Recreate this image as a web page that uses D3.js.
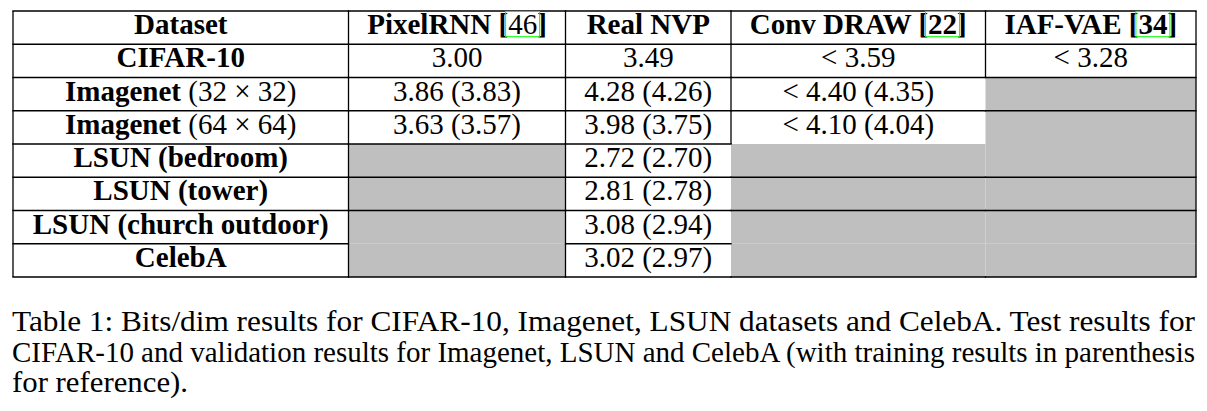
<!DOCTYPE html>
<html>
<head>
<meta charset="utf-8">
<script src="https://cdn.jsdelivr.net/npm/d3@7"></script>
<style>
  html, body { margin: 0; padding: 0; background: #fff; }
  svg { display: block; font-family: "Liberation Serif", "Times New Roman", serif; }
</style>
</head>
<body>
<svg id="chart" width="1207" height="411"></svg>
<script>
// table content
const headerLabel = 'Dataset';
const models = ['PixelRNN', 'Real NVP', 'Conv DRAW', 'IAF-VAE'];
const cites = ['46', null, '22', '34'];
const citeBold = [false, false, true, true];
const datasetNames = ['CIFAR-10', 'Imagenet', 'Imagenet', 'LSUN (bedroom)', 'LSUN (tower)', 'LSUN (church outdoor)', 'CelebA'];
const datasetSizes = [null, '32', '64', null, null, null, null];

// test (or validation) bits/dim and training bits/dim, null = no result
const pixelRnnTest  = [3.00, 3.86, 3.63, null, null, null, null];
const pixelRnnTrain = [null, 3.83, 3.57, null, null, null, null];
const realNvpTest   = [3.49, 4.28, 3.98, 2.72, 2.81, 3.08, 3.02];
const realNvpTrain  = [null, 4.26, 3.75, 2.70, 2.78, 2.94, 2.97];
const convDrawTest  = [3.59, 4.40, 4.10, null, null, null, null];
const convDrawTrain = [null, 4.35, 4.04, null, null, null, null];
const iafVaeTest    = [3.28, null, null, null, null, null, null];
const iafVaeTrain   = [null, null, null, null, null, null, null];
const upperBound = [false, false, true, true];   // values shown as "< x"

const captionLines = [
  'Table 1: Bits/dim results for CIFAR-10, Imagenet, LSUN datasets and CelebA. Test results for',
  'CIFAR-10 and validation results for Imagenet, LSUN and CelebA (with training results in parenthesis',
  'for reference).'
];

// layout
const colEdges = [13, 348.5, 565.5, 731, 985.5, 1196];
const fontSize = 29;
const grey = '#bfbfbf';
// rules that the shaded cells paint over: top edge of [row, col]
const hiddenTop = [[3, 3], [3, 4], [6, 1], [6, 3], [6, 4]];

const testCols = [pixelRnnTest, realNvpTest, convDrawTest, iafVaeTest];
const trainCols = [pixelRnnTrain, realNvpTrain, convDrawTrain, iafVaeTrain];
const fmt = d3.format('.2f');

const svg = d3.select('#chart');
svg.append('rect').attr('width', 1207).attr('height', 411).attr('fill', '#fff');

const y = d3.scaleBand()
    .domain(d3.range(datasetNames.length + 1))
    .range([11, 277]);

const x = d3.scaleOrdinal()
    .domain(d3.range(colEdges.length - 1))
    .range(colEdges.slice(0, -1));
const colW = c => colEdges[c + 1] - colEdges[c];
const colMid = c => x(c) + colW(c) / 2;
const baseline = r => y(r) + 23;

// cells as a flat list
const cells = [];
datasetNames.forEach((name, i) => {
    models.forEach((m, j) => {
        cells.push({ row: i + 1, col: j + 1, test: testCols[j][i], train: trainCols[j][i], bound: upperBound[j] });
    });
});

// shaded (empty) cells
svg.append('g').selectAll('rect')
    .data(cells.filter(d => d.test == null))
    .join('rect')
        .attr('x', d => x(d.col))
        .attr('y', d => y(d.row))
        .attr('width', d => colW(d.col))
        .attr('height', y.bandwidth())
        .attr('fill', grey);

// rules
const isGrey = (r, c) => c > 0 && r > 0 && testCols[c - 1][r - 1] == null;
const hidden = (r, c) => hiddenTop.some(h => h[0] === r - 1 && h[1] === c);
const hSegs = [];
for (let r = 0; r <= datasetNames.length + 1; r++) {
    for (let c = 0; c < models.length + 1; c++) {
        if (r > 0 && r <= datasetNames.length && hidden(r, c)) continue;
        const yy = r <= datasetNames.length ? y(r) : y(r - 1) + y.bandwidth();
        hSegs.push({ x1: x(c), x2: x(c) + colW(c), y: yy });
    }
}
const vSegs = [];
for (let r = 0; r <= datasetNames.length; r++) {
    for (let c = 0; c <= models.length + 1; c++) {
        if (c >= 3 && c <= models.length && isGrey(r, c)) continue;
        const xx = c <= models.length ? x(c) : colEdges[c];
        vSegs.push({ x: xx, y1: y(r), y2: y(r) + y.bandwidth() });
    }
}
const rules = svg.append('g').attr('stroke', '#000').attr('stroke-width', 1.3);
rules.selectAll('.h').data(hSegs).join('line').attr('class', 'h')
    .attr('x1', d => d.x1 - 0.65).attr('x2', d => d.x2 + 0.65)
    .attr('y1', d => d.y).attr('y2', d => d.y);
rules.selectAll('.v').data(vSegs).join('line').attr('class', 'v')
    .attr('x1', d => d.x).attr('x2', d => d.x)
    .attr('y1', d => d.y1).attr('y2', d => d.y2);

const txt = svg.append('g').attr('font-size', fontSize).attr('fill', '#000').attr('text-anchor', 'middle');

// header
txt.append('text').attr('x', colMid(0)).attr('y', baseline(0))
    .attr('font-weight', 'bold').text(headerLabel);

models.forEach((m, j) => {
    const t = txt.append('text').attr('x', colMid(j + 1)).attr('y', baseline(0)).attr('font-weight', 'bold');
    if (!cites[j]) { t.text(m); return; }
    t.append('tspan').text(m + ' [');
    const c = t.append('tspan').attr('font-weight', citeBold[j] ? 'bold' : 'normal').text(cites[j]);
    t.append('tspan').text(']');
    const node = c.node();
    const x0 = node.getStartPositionOfChar(0).x;
    const w = node.getComputedTextLength();
    svg.append('rect')
        .attr('x', x0 - 2.5).attr('y', baseline(0) - 22.5)
        .attr('width', w + 5).attr('height', 25.2)
        .attr('fill', 'none').attr('stroke', '#00ff00').attr('stroke-width', 1);
});

// dataset names
datasetNames.forEach((name, i) => {
    const t = txt.append('text').attr('x', colMid(0)).attr('y', baseline(i + 1));
    t.append('tspan').attr('font-weight', 'bold').text(name);
    if (datasetSizes[i]) t.append('tspan').text(` (${datasetSizes[i]} \u00d7 ${datasetSizes[i]})`);
});

// values
txt.selectAll('.val')
    .data(cells.filter(d => d.test != null))
    .join('text')
        .attr('class', 'val')
        .attr('x', d => colMid(d.col))
        .attr('y', d => baseline(d.row))
        .text(d => (d.bound ? '< ' : '') + fmt(d.test) + (d.train != null ? ` (${fmt(d.train)})` : ''));

// caption (justified like the source)
const capWidths = [1183, 1183, 176];
svg.append('g').attr('font-size', 29).attr('fill', '#000')
    .selectAll('text')
    .data(captionLines)
    .join('text')
        .attr('x', 12)
        .attr('y', (d, i) => 331 + i * 30.5)
        .attr('textLength', (d, i) => capWidths[i])
        .attr('lengthAdjust', 'spacingAndGlyphs')
        .text(d => d);
</script>
</body>
</html>
